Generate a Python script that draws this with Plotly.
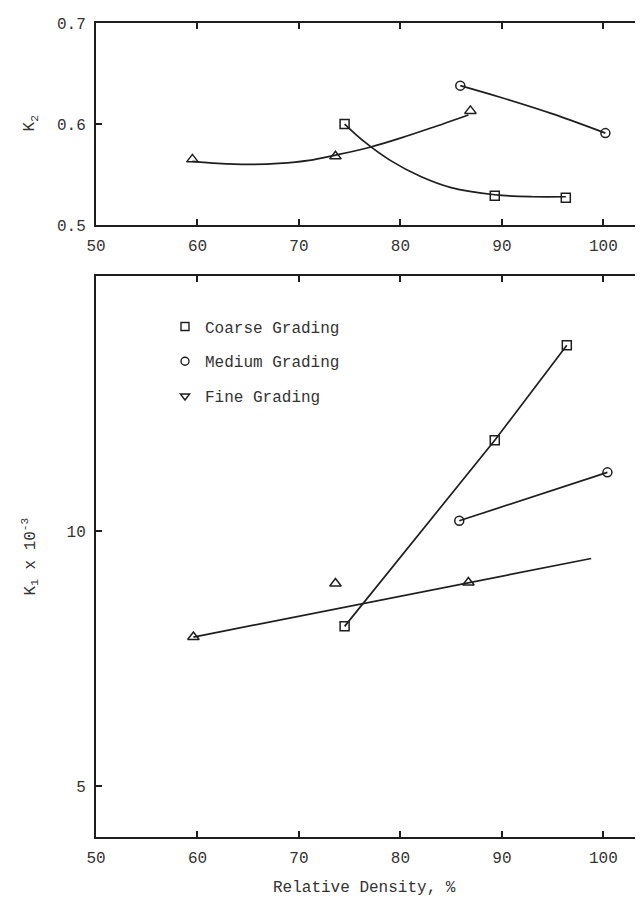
import plotly.graph_objects as go

# ---------------- data ----------------
# Top panel: K2 vs relative density
coarse_k2_x = [74.5, 89.3, 96.3]
coarse_k2_y = [0.600, 0.529, 0.527]
medium_k2_x = [85.9, 100.2]
medium_k2_y = [0.638, 0.591]
fine_k2_x = [59.5, 73.6, 86.9]
fine_k2_y = [0.565, 0.568, 0.613]

# fitted curves drawn through the K2 points
coarse_k2_fit_x = [74.5, 76.5, 79.0, 82.0, 85.0, 89.3, 93.0, 96.3]
coarse_k2_fit_y = [0.600, 0.582, 0.564, 0.548, 0.537, 0.530, 0.528, 0.528]
medium_k2_fit_x = [85.9, 90.0, 95.0, 100.2]
medium_k2_fit_y = [0.638, 0.626, 0.610, 0.591]
fine_k2_fit_x = [59.5, 62.0, 65.0, 68.0, 71.0, 73.5, 77.0, 80.0, 83.0, 86.7]
fine_k2_fit_y = [0.563, 0.561, 0.560, 0.561, 0.564, 0.569, 0.577, 0.586, 0.596, 0.609]

# Bottom panel: K1 x 10^-3 vs relative density
coarse_k1_x = [74.5, 89.3, 96.4]
coarse_k1_y = [8.13, 11.78, 13.64]
medium_k1_x = [85.8, 100.4]
medium_k1_y = [10.20, 11.15]
fine_k1_x = [59.6, 73.6, 86.7]
fine_k1_y = [7.92, 8.97, 8.99]
fine_k1_fit_x = [59.6, 98.8]
fine_k1_fit_y = [7.92, 9.46]

x_ticks = [50, 60, 70, 80, 90, 100]
k2_ticks = [0.5, 0.6, 0.7]
k1_ticks = [5, 10]

legend_names = ["Coarse Grading", "Medium Grading", "Fine Grading"]

# ---------------- styling ----------------
INK = "#1e1e1e"
TXT = "#333333"
FONT = "Liberation Mono"
FS = 16
MS = 9

fig = go.Figure()

def line(x, y, xa, ya, spline=True):
    fig.add_trace(go.Scatter(x=x, y=y, mode="lines", xaxis=xa, yaxis=ya,
                             line=dict(color=INK, width=1.7,
                                       shape="spline" if spline else "linear"),
                             showlegend=False, hoverinfo="skip"))

def pts(x, y, sym, xa, ya, size=MS):
    fig.add_trace(go.Scatter(x=x, y=y, mode="markers", xaxis=xa, yaxis=ya,
                             marker=dict(symbol=sym, size=size, color=INK,
                                         line=dict(color=INK, width=1.5)),
                             showlegend=False))

# top panel
line(coarse_k2_fit_x, coarse_k2_fit_y, "x", "y")
line(medium_k2_fit_x, medium_k2_fit_y, "x", "y")
line(fine_k2_fit_x, fine_k2_fit_y, "x", "y")
pts(coarse_k2_x, coarse_k2_y, "square-open", "x", "y")
pts(medium_k2_x, medium_k2_y, "circle-open", "x", "y")
pts(fine_k2_x, fine_k2_y, "triangle-up-open", "x", "y", 10)

# bottom panel
line(coarse_k1_x, coarse_k1_y, "x2", "y2", spline=False)
line(medium_k1_x, medium_k1_y, "x2", "y2", spline=False)
line(fine_k1_fit_x, fine_k1_fit_y, "x2", "y2", spline=False)
pts(coarse_k1_x, coarse_k1_y, "square-open", "x2", "y2")
pts(medium_k1_x, medium_k1_y, "circle-open", "x2", "y2")
pts(fine_k1_x, fine_k1_y, "triangle-up-open", "x2", "y2", 10)

# legend entries
for name, sym, grp in zip(legend_names,
                          ["square-open", "circle-open", "triangle-down-open"],
                          ["a", "b", "c"]):
    fig.add_trace(go.Scatter(x=[None], y=[None], mode="markers", name=name,
                             legendgroup=grp, xaxis="x2", yaxis="y2",
                             marker=dict(symbol=sym, size=8, color=INK,
                                         line=dict(color=INK, width=1.4))))

axis_common = dict(showline=True, linecolor=INK, linewidth=2, mirror="ticks",
                   ticks="inside", ticklen=6, tickwidth=1.5, tickcolor=INK,
                   showgrid=False, zeroline=False,
                   tickfont=dict(family=FONT, size=FS, color=TXT))

x_range = [50, 104.4]
fig.update_layout(
    width=643, height=898,
    margin=dict(l=88, r=1, t=15, b=69),
    paper_bgcolor="white", plot_bgcolor="white",
    font=dict(family=FONT, size=FS, color=TXT),
    xaxis=dict(domain=[0, 1], range=x_range, anchor="y", tickvals=x_ticks,
               ticklabelstandoff=5, **axis_common),
    yaxis=dict(domain=[0.7518, 1], range=[0.5, 0.7], anchor="x", tickvals=k2_ticks,
               ticktext=["0.5", "0.6", "0.7"], ticklabelstandoff=5, **axis_common),
    xaxis2=dict(domain=[0, 1], range=x_range, anchor="y2", tickvals=x_ticks,
                ticklabelstandoff=5, **axis_common),
    yaxis2=dict(domain=[0, 0.6892], range=[4, 15], anchor="x2", tickvals=k1_ticks,
                ticklabelstandoff=5, **axis_common),
    legend=dict(x=0.125, y=0.648, xanchor="left", yanchor="top",
                traceorder="grouped", tracegroupgap=11,
                bgcolor="rgba(0,0,0,0)",
                font=dict(family=FONT, size=FS, color=TXT)),
    annotations=[
        dict(text="K<sub>2</sub>", xref="paper", yref="paper", x=-0.119, y=0.877,
             textangle=-90, showarrow=False, xanchor="center", yanchor="middle",
             font=dict(family=FONT, size=FS, color=TXT)),
        dict(text="K<sub>1</sub> x 10<sup>-3</sup>", xref="paper", yref="paper",
             x=-0.119, y=0.345, textangle=-90, showarrow=False,
             xanchor="center", yanchor="middle",
             font=dict(family=FONT, size=FS, color=TXT)),
        dict(text="Relative Density, %", xref="paper", yref="paper", x=0.487, y=-0.063,
             showarrow=False, xanchor="center", yanchor="middle",
             font=dict(family=FONT, size=FS, color=TXT)),
    ],
)

fig.write_html("out.html")
